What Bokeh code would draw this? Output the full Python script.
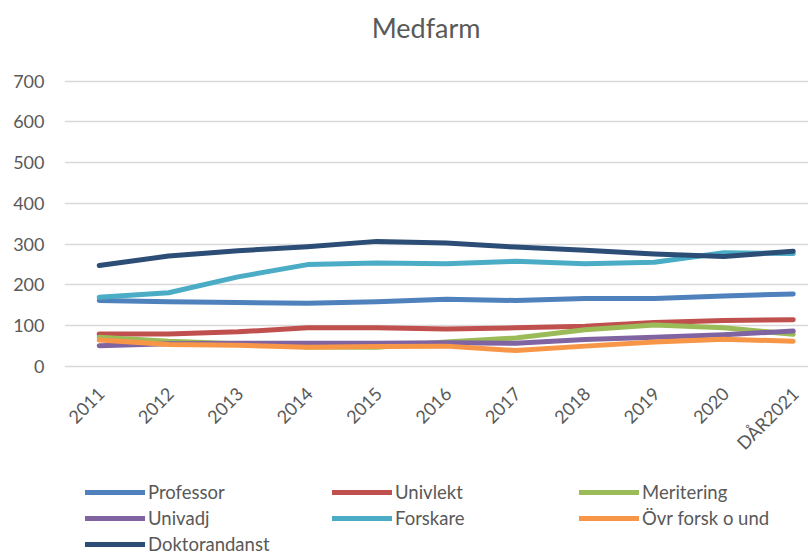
from bokeh.plotting import figure
from bokeh.models import Range1d, FixedTicker, Legend, LegendItem, Label
from bokeh.core.properties import value
from bokeh.embed import file_html
from bokeh.resources import INLINE
import math

title_text = "Medfarm"
years = ["2011", "2012", "2013", "2014", "2015", "2016", "2017", "2018", "2019", "2020", "DÅR2021"]
professor = [162, 159, 157, 155, 159, 165, 162, 167, 167, 173, 178]
univlekt = [80, 80, 85, 95, 95, 92, 95, 99, 108, 113, 115]
meritering = [72, 62, 56, 48, 47, 60, 70, 90, 102, 95, 79]
univadj = [51, 56, 57, 57, 57, 58, 57, 66, 72, 78, 87]
forskare = [170, 181, 220, 250, 254, 252, 258, 252, 256, 279, 277]
ovr = [65, 54, 52, 47, 49, 50, 39, 50, 60, 67, 62]
doktorand = [248, 271, 284, 294, 307, 303, 293, 285, 276, 270, 283]
y_ticks = [0, 100, 200, 300, 400, 500, 600, 700]

series = [
    ("Professor", professor, "#4F81BD"),
    ("Univlekt", univlekt, "#C0504D"),
    ("Meritering", meritering, "#9BBB59"),
    ("Univadj", univadj, "#8064A2"),
    ("Forskare", forskare, "#4BACC6"),
    ("Övr forsk o und", ovr, "#F79646"),
    ("Doktorandanst", doktorand, "#2C4D75"),
]

FONT = "Lato"
TXT = "#595959"

x = list(range(len(years)))

p = figure(width=808, height=555, output_backend="svg", toolbar_location=None,
           x_range=Range1d(-0.5, 10.22), y_range=Range1d(-463.7, 898.0),
           x_axis_location=None,
           min_border_left=64, min_border_right=0, min_border_top=0, min_border_bottom=0)
p.outline_line_color = None

p.yaxis.ticker = FixedTicker(ticks=y_ticks)
p.yaxis.axis_line_color = None
p.yaxis.major_tick_line_color = None
p.yaxis.minor_tick_line_color = None
p.yaxis.major_label_text_font = FONT
p.yaxis.major_label_text_font_size = "18px"
p.yaxis.major_label_text_color = TXT
p.yaxis.major_label_standoff = 14

p.xgrid.grid_line_color = None
p.ygrid.grid_line_color = "#D9D9D9"
p.ygrid.grid_line_width = 1.5

# chart title
p.add_layout(Label(x=4.71, y=831.8, text=title_text, text_align="center",
                   text_baseline="middle", text_font=FONT, text_font_size="27px",
                   text_color=TXT))

# category labels along the zero line
p.text(x=x, y=[0] * len(years), text=years, angle=math.pi / 4,
       text_align="right", text_baseline="middle", x_offset=2, y_offset=24,
       text_font=value(FONT), text_font_size="18px", text_color=TXT)

items = []
for name, vals, col in series:
    r = p.line(x, vals, line_color=col, line_width=5, line_cap="round", line_join="round")
    items.append(LegendItem(label=name, renderers=[r]))

legend = Legend(items=items, location=(21, 0), orientation="horizontal", ncols=3,
                glyph_width=60, glyph_height=22, label_height=22, label_width=180,
                label_standoff=3, spacing=4, padding=0, margin=0,
                border_line_color=None, background_fill_alpha=0,
                label_text_font=FONT, label_text_font_size="18.5px", label_text_color=TXT)
p.add_layout(legend, "center")

open("out.html", "w").write(file_html(p, INLINE))
